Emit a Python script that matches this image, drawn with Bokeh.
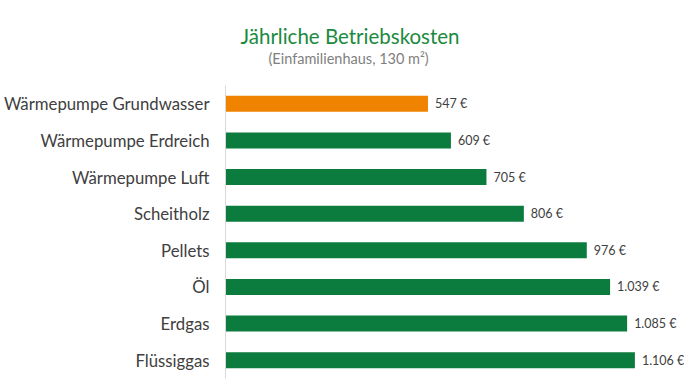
from bokeh.plotting import figure
from bokeh.models import ColumnDataSource, Range1d, Title, LabelSet
from bokeh.embed import file_html
from bokeh.resources import INLINE
from bokeh.core.properties import value

categories = ["Wärmepumpe Grundwasser", "Wärmepumpe Erdreich", "Wärmepumpe Luft",
              "Scheitholz", "Pellets", "Öl", "Erdgas", "Flüssiggas"]
costs = [547, 609, 705, 806, 976, 1039, 1085, 1106]
bar_colors = ["#F08300", "#0B7B3E", "#0B7B3E", "#0B7B3E", "#0B7B3E", "#0B7B3E", "#0B7B3E", "#0B7B3E"]
title_text = "Jährliche Betriebskosten"
subtitle_text = "(Einfamilienhaus, 130 m²)"

def fmt(v):
    return "{:,}".format(v).replace(",", ".") + " €"

labels = [fmt(v) for v in costs]

src = ColumnDataSource(dict(cat=categories, val=costs, color=bar_colors, lab=labels))

FONT = "Lato"
p = figure(width=684, height=383, y_range=list(reversed(categories)),
           x_range=Range1d(0, 1240), output_backend="svg", toolbar_location=None,
           min_border_left=219, min_border_right=0, min_border_bottom=5, min_border_top=85)

p.hbar(y="cat", right="val", left=0, height=0.44, color="color", line_color=None, source=src)
vals = LabelSet(x="val", y="cat", text="lab", source=src, x_offset=7, text_baseline="middle",
                text_align="left", text_font=value(FONT), text_font_size=value("12.5px"),
                text_color="#404040")
p.add_layout(vals)

spacer = Title(text=" ", align="left", text_font=FONT, text_font_size="1px", standoff=16)
sub = Title(text=subtitle_text, align="left", offset=43, text_font=FONT,
            text_font_size="14.5px", text_font_style="normal", text_color="#7f7f7f",
            standoff=0)
ttl = Title(text=title_text, align="left", offset=15, text_font=FONT,
            text_font_size="20.5px", text_font_style="normal", text_color="#1A8A3E",
            standoff=0)
p.add_layout(spacer, "above")
p.add_layout(sub, "above")
p.add_layout(ttl, "above")

p.xaxis.visible = False
p.xgrid.grid_line_color = None
p.ygrid.grid_line_color = None
p.outline_line_color = None
p.yaxis.axis_line_color = "#d9d9d9"
p.yaxis.major_tick_line_color = None
p.yaxis.minor_tick_line_color = None
p.yaxis.major_label_text_font = FONT
p.yaxis.major_label_text_font_size = "16.75px"
p.yaxis.major_label_text_color = "#404040"
p.yaxis.major_label_standoff = 10
p.y_range.range_padding = 0

open("out.html", "w").write(file_html(p, INLINE))
